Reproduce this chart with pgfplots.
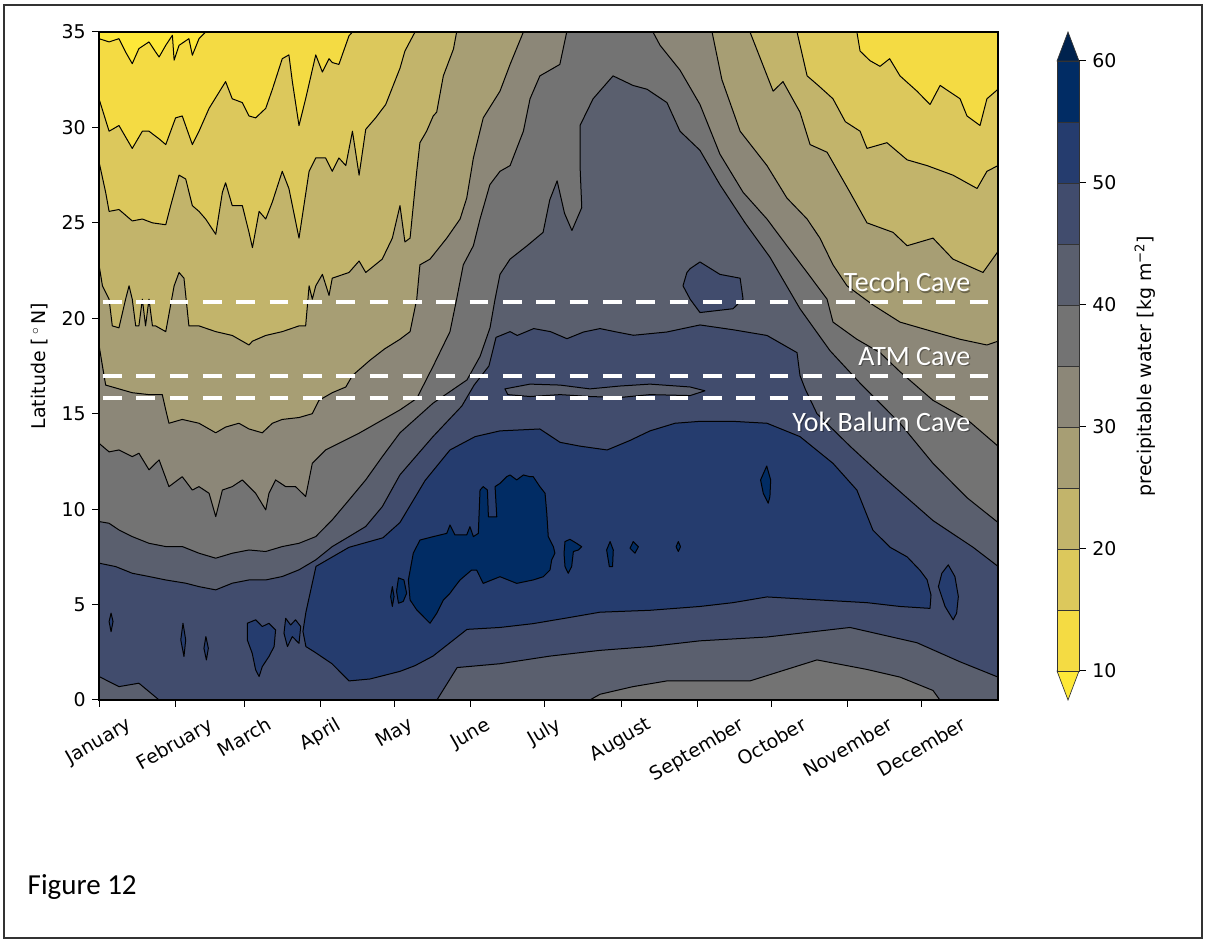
\documentclass[border=0pt]{standalone}
\usepackage{fontspec}
\setmainfont{DejaVu Sans}
\newfontfamily\calibri{Carlito}
\usepackage{graphicx}
\usepackage{pgfplots}
\pgfplotsset{compat=1.18}
\definecolor{cU}{HTML}{FEE838}
\definecolor{c10}{HTML}{F4DB43}
\definecolor{c15}{HTML}{DCC85C}
\definecolor{c20}{HTML}{C2B46B}
\definecolor{c25}{HTML}{A79E74}
\definecolor{c30}{HTML}{8C8778}
\definecolor{c35}{HTML}{737373}
\definecolor{c40}{HTML}{5A5F6E}
\definecolor{c45}{HTML}{414C6D}
\definecolor{c50}{HTML}{253C6E}
\definecolor{c55}{HTML}{012C64}
\definecolor{cO}{HTML}{00224E}
\pgfplotsset{region/.style={draw=black, line width=0.75pt, line join=round, fill=#1, mark=none},
cbar/.style={draw=black!80, line width=0.5pt, fill=#1, mark=none}}
\begin{document}
\begin{tikzpicture}[x=1pt,y=1pt]
\draw[black!80, line width=1.5pt] (3,2.5) rectangle (901.5,702);
\begin{axis}[
  at={(74.25pt,180.75pt)}, anchor=south west, scale only axis,
  width=674.25pt, height=501pt,
  xmin=0, xmax=365, ymin=0, ymax=35,
  axis on top,
  axis background/.style={fill=c30},
  xtick={0,31,59,90,120,151,181,212,243,273,304,334},
  xticklabels={{\rotatebox{30}{January}},{\rotatebox{30}{February}},{\rotatebox{30}{March}},{\rotatebox{30}{April}},{\rotatebox{30}{May}},{\rotatebox{30}{June}},{\rotatebox{30}{July}},{\rotatebox{30}{August}},{\rotatebox{30}{September}},{\rotatebox{30}{October}},{\rotatebox{30}{November}},{\rotatebox{30}{December}}},
  ytick={0,5,...,35},
  tick align=outside, major tick length=5pt,
  xtick pos=bottom, ytick pos=left,
  tick style={black, line width=0.75pt},
  axis line style={black, line width=0.9pt},
  tick label style={font=\fontsize{14.2}{17}\selectfont},
  /pgf/number format/assume math mode=true,
  xticklabel style={anchor=north, inner sep=0pt, yshift=-7pt},
  yticklabel style={anchor=east, inner sep=0pt, xshift=-4.75pt},
]
% sublevel sets (low values, top)
\addplot[region=c25] coordinates {(0,35) (0,18.6) (1.4,17.5) (2.7,16.5) (8.1,16.3) (13.5,16.1) (20.3,16.0) (25.7,16.0) (27.1,15.2) (28.4,14.5) (33.8,14.7) (40.6,14.5) (47.4,14.0) (51.4,14.3) (56.8,14.5) (60.9,14.2) (66.3,14.0) (70.4,14.5) (74.4,14.7) (81.2,14.8) (86.6,15.0) (89.3,15.7) (94.7,16.1) (100.2,16.4) (102.9,17.0) (110,17.8) (116,18.4) (122.2,18.9) (126.3,19.3) (129,21.0) (130.3,22.8) (134.4,23.1) (141.2,24.2) (146.6,25.2) (149.3,26.3) (152,28.4) (156,30.5) (162.8,31.9) (166.9,33.3) (172.3,35) (0,35)} -- cycle;
\addplot[region=c25] coordinates {(248.9,35) (252.9,32.5) (260.3,29.8) (271.2,28.0) (279.3,26.3) (287.5,25.2) (292.7,24.2) (298,22.8) (303.7,21.7) (314.2,20.7) (325.2,19.8) (338.6,19.3) (349.6,18.9) (360.5,18.6) (365,18.8) (365,35) (248.9,35)} -- cycle;
\addplot[region=c20] coordinates {(0,35) (0,22.8) (1.4,21.7) (4.1,21.0) (5.4,19.6) (8.1,19.5) (10.8,21.0) (12.2,21.7) (13.5,21.0) (14.9,19.6) (16.2,19.6) (17.6,21.0) (18.9,19.6) (20.3,21.0) (21.7,19.6) (23,19.6) (27.1,19.3) (30.5,21.7) (32.5,22.4) (34.5,22.1) (36.5,19.6) (40.6,19.6) (47.4,19.3) (54.1,19.1) (60.9,18.6) (62.3,18.8) (67.7,19.1) (74.4,19.3) (81.2,19.6) (83.9,19.6) (85.3,21.7) (86.6,21.0) (88,21.7) (90.7,22.3) (93.4,21.2) (94.7,22.1) (101.5,22.4) (105.6,23.0) (108.3,22.4) (115,23.1) (119.1,24.2) (122.2,25.9) (124.2,24.0) (126.3,24.2) (127.6,25.9) (129,27.7) (130.3,29.2) (133,29.8) (135.7,30.6) (137.1,30.8) (139.8,32.7) (143.9,34.1) (145.2,35) (0,35)} -- cycle;
\addplot[region=c20] coordinates {(264.3,35) (273.7,31.9) (277.7,32.4) (284.6,30.8) (288.7,29.1) (295.6,28.7) (304.9,26.6) (311.8,25.0) (322.4,24.5) (328.1,23.8) (338.6,24.2) (346.7,23.1) (358.9,22.4) (365,23.5) (365,35) (264.3,35)} -- cycle;
\addplot[region=c15] coordinates {(0,35) (0,28.2) (2.7,26.6) (4.1,25.6) (8.1,25.7) (13.5,25.1) (17.6,25.2) (21.7,25.0) (27.1,24.9) (29.1,25.9) (32.5,27.5) (35.2,27.3) (37.9,25.9) (40.6,25.6) (43.3,25.2) (47.4,24.4) (50.1,26.6) (51.4,27.1) (54.1,25.9) (58.2,25.9) (60.9,24.5) (62.3,23.7) (65,25.6) (67.7,25.2) (70.4,26.1) (74.4,27.7) (77.1,26.8) (81.2,24.2) (85.3,27.7) (88,28.4) (92,28.4) (94.7,27.7) (97.4,28.4) (100.2,28.0) (102.9,29.8) (105.6,27.5) (108.3,29.9) (112.3,30.5) (116.4,31.2) (122.2,33.1) (124.2,34) (128.3,35) (0,35)} -- cycle;
\addplot[region=c15] coordinates {(283.4,35) (287.5,32.7) (292,32.2) (298,31.5) (303,30.3) (309,29.8) (311.8,28.9) (319.9,29.2) (328.1,28.3) (336.2,28.0) (346.7,27.5) (356.5,26.8) (360.5,27.7) (365,28.0) (365,35) (283.4,35)} -- cycle;
\addplot[region=c10] coordinates {(0,35) (0,31.5) (4.1,29.8) (8.1,30.1) (13.5,28.9) (17.6,29.8) (20.3,29.8) (24.4,29.4) (27.1,29.1) (31.1,30.5) (33.8,30.6) (37.9,29.1) (40.6,29.8) (44.7,31.0) (51.4,32.4) (54.1,31.5) (58.2,31.3) (60.9,30.6) (63.6,30.5) (67.7,31.0) (70.4,32.0) (74.4,33.6) (77.1,33.8) (78.5,32.4) (81.2,30.1) (83.9,31.5) (88,33.8) (90.7,32.9) (93.4,33.6) (94.7,33.4) (97.4,33.3) (101.5,34.8) (102.9,35) (0,35)} -- cycle;
\addplot[region=c10] coordinates {(307.7,35) (309,34.0) (313,33.5) (317.1,33.2) (321,33.6) (325.2,32.7) (332.1,31.9) (337.4,31.2) (341.5,32.2) (349.6,31.5) (352.4,30.6) (357.7,30.1) (360.5,31.5) (365,32.0) (365,35) (307.7,35)} -- cycle;
\addplot[region=cU] coordinates {(0,35) (0,34.65) (4.1,34.48) (8.1,34.65) (10.8,33.95) (13.5,33.34) (16.2,34.13) (20.3,34.48) (23,33.95) (24.4,33.69) (27.1,34.3) (29.8,34.83) (30.5,33.52) (32.5,34.3) (36.5,34.65) (37.9,33.78) (40.6,34.65) (43.3,35) (0,35)} -- cycle;
% superlevel sets (high values)
\addplot[region=c35] coordinates {(0,0) (0,13.45) (4.1,13.0) (8.1,13.1) (13.5,12.75) (16.2,12.93) (20.3,12.06) (24.4,12.58) (28.4,11.18) (33.8,11.7) (37.9,11.0) (40.6,11.18) (44.7,10.83) (47.4,9.61) (50.1,11.0) (54.1,11.18) (58.2,11.53) (63.6,10.83) (67.7,9.96) (69,10.83) (71.7,11.53) (75.8,11.18) (79.8,11.18) (83.9,10.66) (86.6,12.4) (92,13.1) (97.4,13.45) (105.6,13.98) (115,14.67) (122.2,15.2) (129,15.8) (135.7,17.5) (142.5,19.3) (145.2,21.0) (147.9,22.8) (152,23.8) (154.7,25.2) (158.7,27.0) (162.8,27.7) (166.9,28.0) (172.3,29.8) (175,31.5) (179,32.7) (187.1,33.3) (189.9,35) (224.9,35) (227.8,34.3) (235.9,33.0) (244,31.2) (252.1,28.6) (261.5,26.6) (271.2,25.2) (279.3,23.8) (287.5,22.4) (295.6,21.0) (298,19.8) (307.7,18.9) (317.1,18.2) (325.2,17.2) (338.6,15.7) (352.4,14.7) (365,13.3) (365,0) (0,0)} -- cycle;
\addplot[region=c40] coordinates {(0,0) (0,9.35) (4.06,9.26) (8.12,8.91) (13.52,8.56) (20.3,8.21) (27.08,8.04) (33.82,8.04) (40.6,7.69) (47.38,7.43) (54.12,7.69) (60.9,7.86) (67.68,7.78) (74.42,8.04) (81.2,8.21) (87.98,8.56) (94.72,9.44) (101.5,10.48) (108.28,11.53) (115.02,12.75) (122.2,14.0) (135.6,15.55) (149.4,16.77) (154.7,18.0) (158.75,19.5) (160.8,21.0) (162.8,22.3) (166.9,23.1) (173.8,23.8) (180.3,24.5) (183,26.2) (186,27.2) (189,25.5) (192,24.6) (196,25.8) (195.3,28.0) (195.3,30.1) (200.6,31.5) (208.7,32.7) (216.8,32.2) (222.5,32.0) (230.6,31.3) (235.9,29.8) (244,28.8) (252.1,27.0) (262.3,25.0) (272.4,23.2) (284.6,20.5) (296.8,18.3) (309,16.6) (325.2,14.5) (338.6,12.4) (352.4,10.6) (365,9.3) (365,0) (341.4,0) (338.6,0.5) (325.2,1.2) (311.8,1.6) (291.5,2.1) (264.3,1.0) (244,1.0) (230.6,1.0) (216.8,0.7) (203.4,0.3) (199.3,0) (0,0)} -- cycle;
\addplot[region=c45] coordinates {(0,7.17) (6.78,6.99) (13.52,6.64) (20.3,6.47) (27.08,6.29) (35.2,6.12) (40.6,5.94) (47.38,5.77) (54.12,6.12) (60.9,6.29) (67.68,6.29) (74.42,6.47) (81.2,6.82) (87.98,7.34) (94.72,8.04) (101.5,8.56) (108.28,9.09) (115.02,10.13) (122.2,11.8) (135.6,13.8) (147.3,15.4) (152.3,16.5) (158.3,17.5) (161.2,19.0) (166.9,19.3) (169.8,19.1) (176.5,19.46) (183.3,19.3) (190,18.93) (196.7,19.28) (203.4,19.46) (210.2,19.28) (217,19.11) (230.5,19.28) (244,19.65) (257.4,19.4) (271.2,19.1) (283.4,18.2) (284.6,17.0) (286.7,16.3) (291.5,15.0) (304.9,13.3) (318.3,11.7) (338.6,9.4) (354.9,8.0) (365,7.0) (365,1.2) (349.6,2.0) (332.1,3.0) (304.9,3.8) (271.2,3.3) (244,3.1) (223.7,2.8) (203.4,2.6) (183.1,2.3) (162.8,1.9) (145.4,1.7) (137.2,0) (24.4,0) (16.2,0.88) (8.1,0.7) (0,1.23) (0,7.17)} -- cycle;
\addplot[region=c45] coordinates {(240,22.6) (244,22.95) (252.1,22.3) (260.3,22.1) (261.5,21.0) (257.4,20.5) (244,20.3) (240,21.0) (237.1,21.7) (238.7,22.4) (240,22.6)} -- cycle;
\addplot[region=c40] coordinates {(164.8,16.3) (175,16.55) (187.2,16.5) (199.3,16.3) (211.5,16.45) (223.7,16.55) (240,16.4) (246,16.2) (240,15.95) (223.7,16.0) (211.5,15.85) (199.3,15.9) (187.2,16.0) (175,15.9) (166,16.0) (164.8,16.3)} -- cycle;
\addplot[region=c50] coordinates {(84.0,4.6) (88.1,7.0) (101.5,8.0) (115.3,8.5) (122.2,9.3) (132.4,11.5) (142.5,13.1) (152.7,13.8) (162.8,14.1) (179,14.2) (187.2,13.5) (195.3,13.3) (206.3,13.1) (215.6,13.6) (223.7,14.1) (233.9,14.5) (244,14.6) (257.4,14.6) (271.2,14.5) (284.6,13.8) (298,12.4) (307.7,11.0) (314.2,8.9) (321.2,8.0) (328.1,7.5) (333.3,6.8) (336.2,6.3) (337.8,5.5) (337.4,4.8) (325.2,4.9) (311.8,5.1) (298,5.2) (284.6,5.3) (271.2,5.4) (257.4,5.1) (244,4.9) (223.7,4.7) (203.4,4.6) (190,4.3) (176.2,4.0) (162.8,3.8) (149.4,3.7) (142.5,3.0) (135.6,2.3) (128.3,1.8) (122.2,1.5) (110,1.1) (101.5,1.0) (94.6,1.9) (87.7,2.5) (84.0,2.8) (82.8,3.6) (84.0,4.6)} -- cycle;
\addplot[region=c50] coordinates {(60.2,4.02) (63.6,4.2) (66.3,3.85) (69.0,4.02) (71.7,3.67) (71.1,2.8) (69.0,2.28) (66.3,1.75) (65.0,1.23) (63.6,1.58) (62.2,2.45) (60.2,3.15) (60.2,4.02)} -- cycle;
\addplot[region=c50] coordinates {(75.8,4.28) (77.8,3.93) (79.8,4.2) (81.9,3.85) (81.2,2.97) (78.5,3.32) (76.5,2.8) (75.1,3.5) (75.8,4.28)} -- cycle;
\addplot[region=c50] coordinates {(34.1,4.02) (35.2,3.15) (34.5,2.28) (33.2,3.15) (34.1,4.02)} -- cycle;
\addplot[region=c50] coordinates {(43.4,3.32) (44.4,2.71) (43.6,2.1) (42.6,2.71) (43.4,3.32)} -- cycle;
\addplot[region=c50] coordinates {(4.9,4.55) (5.7,4.11) (4.9,3.58) (4.1,4.11) (4.9,4.55)} -- cycle;
\addplot[region=c50] coordinates {(344.8,7.08) (347.5,6.47) (348.9,5.42) (348.2,4.55) (346.8,4.2) (343.5,4.9) (340.8,5.94) (342.2,6.64) (344.8,7.08)} -- cycle;
\addplot[region=c55] coordinates {(125.6,6.29) (127.6,7.69) (130.3,8.38) (135.7,8.56) (141.2,8.73) (142.5,9.17) (144.5,8.65) (149.3,8.65) (150.6,9.08) (152.0,8.56) (154.0,8.73) (154.7,11.0) (156.0,11.18) (157.7,11.0) (158.1,9.6) (161.5,9.6) (160.8,11.18) (162.8,11.35) (165.5,11.7) (166.9,11.79) (169.6,11.53) (172.3,11.79) (175.0,11.7) (176.3,11.7) (179.0,11.18) (181.1,10.83) (181.8,9.78) (182.4,8.56) (184.5,8.03) (185.1,7.69) (183.8,7.34) (183.1,6.81) (180.4,6.46) (176.3,6.29) (169.6,6.11) (162.8,6.46) (156.0,6.11) (153.3,6.81) (151.3,6.81) (146.6,6.29) (144.5,5.94) (142.5,5.59) (139.8,5.24) (137.1,4.54) (134.4,4.02) (131.7,4.37) (129.0,4.72) (126.3,5.24) (125.6,6.29)} -- cycle;
\addplot[region=c55] coordinates {(271.1,12.26) (272.7,11.53) (272.4,10.66) (271.7,10.31) (269.7,10.83) (268.6,11.53) (271.1,12.26)} -- cycle;
\addplot[region=c55] coordinates {(189.2,8.3) (191.2,8.42) (193.9,8.21) (196.0,8.03) (194.6,7.86) (192.6,7.78) (191.9,6.99) (190.5,6.64) (189.2,6.99) (188.8,7.69) (189.2,8.3)} -- cycle;
\addplot[region=c55] coordinates {(207.5,8.3) (208.8,7.86) (208.5,6.99) (207.2,6.99) (206.1,7.86) (207.5,8.3)} -- cycle;
\addplot[region=c55] coordinates {(216.9,8.3) (219.0,8.03) (217.6,7.69) (215.6,7.95) (216.9,8.3)} -- cycle;
\addplot[region=c55] coordinates {(235.2,8.3) (236.1,8.03) (235.2,7.78) (234.3,8.03) (235.2,8.3)} -- cycle;
\addplot[region=c55] coordinates {(119.1,5.94) (119.8,5.42) (119.1,4.9) (118.4,5.42) (119.1,5.94)} -- cycle;
\addplot[region=c55] coordinates {(121.6,6.4) (123.8,6.29) (124.9,5.59) (123.5,5.16) (121.6,5.07) (120.8,5.7) (121.6,6.4)} -- cycle;
% cave latitudes
\addplot[white, line width=3pt, dash pattern=on 14pt off 11pt, mark=none] coordinates {(1.6,20.85) (361.5,20.85)};
\addplot[white, line width=3pt, dash pattern=on 14pt off 11pt, mark=none] coordinates {(1.6,16.98) (361.5,16.98)};
\addplot[white, line width=3pt, dash pattern=on 14pt off 11pt, mark=none] coordinates {(1.6,15.82) (361.5,15.82)};
\foreach \lab/\yy in {Tecoh Cave/21.38, ATM Cave/17.55, Yok Balum Cave/14.09}{
  \edef\temp{\noexpand\node[anchor=base east, text=black, opacity=0.35, xshift=0.9pt, yshift=-0.9pt, font=\noexpand\calibri\noexpand\fontsize{21}{25}\noexpand\selectfont] at (axis cs:355.7,\yy) {\lab};
  \noexpand\node[anchor=base east, text=white, font=\noexpand\calibri\noexpand\fontsize{21}{25}\noexpand\selectfont] at (axis cs:355.7,\yy) {\lab};}
  \temp
}
\end{axis}
% colorbar
\begin{axis}[
  at={(792.75pt,202.5pt)}, anchor=south west, scale only axis,
  width=16.5pt, height=457.5pt,
  xmin=0, xmax=1, ymin=10, ymax=60, clip=false,
  xtick=\empty, ytick={10,20,...,60},
  ytick pos=right, yticklabel pos=right,
  tick align=outside, major tick length=5pt,
  tick style={black, line width=0.75pt},
  axis line style={draw=none},
  tick label style={font=\fontsize{14.2}{17}\selectfont},
  /pgf/number format/assume math mode=true,
  yticklabel style={anchor=west, inner sep=0pt, xshift=4.75pt},
]
\addplot[cbar=cU] coordinates {(0,10) (1,10) (0.5,7.62) (0,10)} -- cycle;
\addplot[cbar=c10] coordinates {(0,10) (1,10) (1,15) (0,15) (0,10)} -- cycle;
\addplot[cbar=c15] coordinates {(0,15) (1,15) (1,20) (0,20) (0,15)} -- cycle;
\addplot[cbar=c20] coordinates {(0,20) (1,20) (1,25) (0,25) (0,20)} -- cycle;
\addplot[cbar=c25] coordinates {(0,25) (1,25) (1,30) (0,30) (0,25)} -- cycle;
\addplot[cbar=c30] coordinates {(0,30) (1,30) (1,35) (0,35) (0,30)} -- cycle;
\addplot[cbar=c35] coordinates {(0,35) (1,35) (1,40) (0,40) (0,35)} -- cycle;
\addplot[cbar=c40] coordinates {(0,40) (1,40) (1,45) (0,45) (0,40)} -- cycle;
\addplot[cbar=c45] coordinates {(0,45) (1,45) (1,50) (0,50) (0,45)} -- cycle;
\addplot[cbar=c50] coordinates {(0,50) (1,50) (1,55) (0,55) (0,50)} -- cycle;
\addplot[cbar=c55] coordinates {(0,55) (1,55) (1,60) (0,60) (0,55)} -- cycle;
\addplot[cbar=cO] coordinates {(0,60) (1,60) (0.5,62.38) (0,60)} -- cycle;
\end{axis}
\node[rotate=90, font=\fontsize{14.2}{17}\selectfont] at (858.75pt,431.25pt) {precipitable water [kg m\textsuperscript{−2}]};
\node[rotate=90, font=\fontsize{14.2}{17}\selectfont] at (30pt,431.25pt) {Latitude [\,$^{\circ}$\,N]};
\node[anchor=base west, font=\calibri\fontsize{21.75}{26}\selectfont] at (17.25pt,34.5pt) {Figure 12};
\pgfresetboundingbox
\path (0,0) rectangle (903.75pt,705.75pt);
\end{tikzpicture}
\end{document}
